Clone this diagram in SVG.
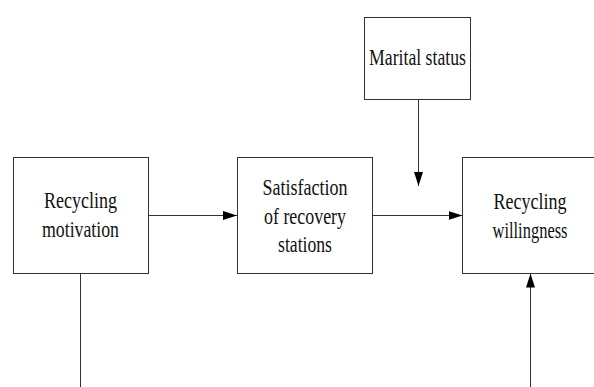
<svg xmlns="http://www.w3.org/2000/svg" width="594" height="387" viewBox="0 0 594 387">
<style>
.box{fill:#fff;stroke:#333;stroke-width:1}
.lbl{font-family:"Liberation Serif","Times New Roman",serif;font-size:24px;fill:#111;text-anchor:middle}
.con{stroke:#333;stroke-width:1;fill:none}
</style>
<defs>
<marker id="ah" markerWidth="14" markerHeight="9" refX="14" refY="4.5" orient="auto" markerUnits="userSpaceOnUse">
<path d="M0,0 L14,4.5 L0,9 Z" fill="#000"/>
</marker>
</defs>
<rect width="594" height="387" fill="#fff"/>
<g id="connectors">
<line class="con" x1="148" y1="215.5" x2="237" y2="215.5" marker-end="url(#ah)"/>
<line class="con" x1="373" y1="215.5" x2="462.5" y2="215.5" marker-end="url(#ah)"/>
<line class="con" x1="418.5" y1="99.5" x2="418.5" y2="186" marker-end="url(#ah)"/>
<line class="con" x1="80.5" y1="273.5" x2="80.5" y2="387"/>
<line class="con" x1="530.5" y1="387" x2="530.5" y2="273.5" marker-end="url(#ah)"/>
</g>
<g id="motivation">
<rect class="box" x="13.5" y="157.5" width="135" height="116"/>
<text class="lbl" x="80.5" y="208" textLength="73" lengthAdjust="spacingAndGlyphs">Recycling</text>
<text class="lbl" x="80.5" y="237" textLength="77" lengthAdjust="spacingAndGlyphs">motivation</text>
</g>
<g id="satisfaction">
<rect class="box" x="237.5" y="157.5" width="135" height="116"/>
<text class="lbl" x="305" y="195" textLength="85" lengthAdjust="spacingAndGlyphs">Satisfaction</text>
<text class="lbl" x="305" y="223.5" textLength="82" lengthAdjust="spacingAndGlyphs">of recovery</text>
<text class="lbl" x="305" y="252" textLength="54" lengthAdjust="spacingAndGlyphs">stations</text>
</g>
<g id="marital">
<rect class="box" x="364.5" y="17.5" width="106" height="82"/>
<text class="lbl" x="417.5" y="65" textLength="97" lengthAdjust="spacingAndGlyphs">Marital status</text>
</g>
<g id="willingness">
<rect class="box" x="462.5" y="157.5" width="135" height="116"/>
<text class="lbl" x="530" y="209" textLength="73" lengthAdjust="spacingAndGlyphs">Recycling</text>
<text class="lbl" x="530" y="238" textLength="75" lengthAdjust="spacingAndGlyphs">willingness</text>
</g>
</svg>
